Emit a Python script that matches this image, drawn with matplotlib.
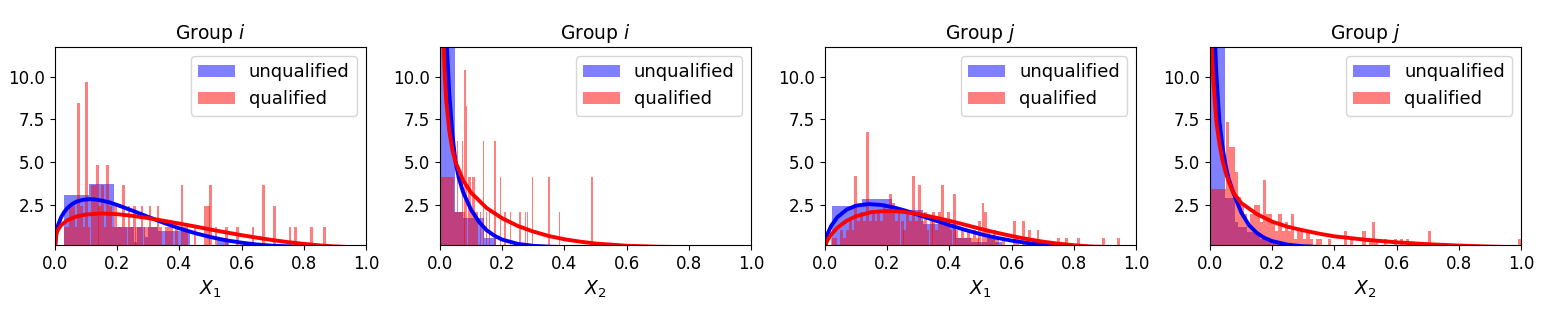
import matplotlib
matplotlib.use("Agg")
import matplotlib.pyplot as plt

# ---- panel titles / labels
titles = ["Group $i$", "Group $i$", "Group $j$", "Group $j$"]
xlabels = ["$X_1$", "$X_2$", "$X_1$", "$X_2$"]

# ---- unqualified histograms (bin edges, density heights)
blue1_edges = [0.028, 0.11, 0.19, 0.255, 0.265, 0.29, 0.30, 0.33, 0.365, 0.435, 0.52, 0.56]
blue1_h = [3.04, 3.73, 1.19, 0.3, 1.19, 0.6, 1.19, 0.95, 0.95, 0.0, 0.5]
blue2_edges = [0.0, 0.048, 0.075, 0.14, 0.18]
blue2_h = [25.0, 2.07, 1.72, 0.54]
blue3_edges = [0.024, 0.118, 0.214, 0.316, 0.42, 0.47, 0.52, 0.545, 0.57, 0.59]
blue3_h = [2.4, 2.83, 2.17, 1.39, 0.55, 0.3, 0.55, 0.3, 0.0]
blue4_edges = [0.0, 0.048, 0.08, 0.09, 0.12, 0.16, 0.2, 0.26, 0.3, 0.34, 0.38]
blue4_h = [25.0, 2.9, 1.5, 1.2, 0.9, 0.5, 0.25, 0.0, 0.15, 0.0]

# ---- qualified histograms (bar centers, density heights, bin width)
red1_w = 0.0085
red1_x = [0.034, 0.042, 0.051, 0.059, 0.068, 0.076, 0.085, 0.093, 0.102, 0.110, 0.119, 0.127,
          0.136, 0.144, 0.153, 0.161, 0.170, 0.178, 0.187, 0.195, 0.204, 0.212, 0.221, 0.229,
          0.238, 0.246, 0.255, 0.263, 0.272, 0.280, 0.289, 0.297, 0.306, 0.314, 0.323, 0.331,
          0.340, 0.357, 0.365, 0.374, 0.391, 0.408, 0.416, 0.425, 0.450, 0.484, 0.493, 0.501,
          0.518, 0.552, 0.586, 0.637, 0.671, 0.705, 0.756, 0.773, 0.824, 0.866]
red1_h = [1.21, 1.21, 2.42, 2.42, 1.21, 8.47, 2.42, 1.21, 9.68, 1.21, 3.63, 3.63,
          4.84, 2.42, 3.63, 1.21, 4.84, 2.42, 1.21, 2.42, 1.21, 1.21, 3.63, 1.21,
          2.42, 1.21, 2.42, 1.21, 1.21, 2.42, 1.21, 1.21, 2.42, 1.21, 1.21, 2.42,
          1.21, 1.21, 1.21, 1.21, 1.21, 3.63, 1.21, 1.21, 1.21, 2.42, 2.42, 3.63,
          1.21, 1.21, 1.21, 1.21, 3.63, 2.42, 1.21, 1.21, 1.21, 1.21]

red2_w = 0.0049
red2_x = [0.0025, 0.0074, 0.0123, 0.0172, 0.0221, 0.0270, 0.0319, 0.0368, 0.0417,
          0.047, 0.052, 0.057, 0.062, 0.067, 0.072, 0.077, 0.081, 0.086, 0.091, 0.096,
          0.101, 0.106, 0.111, 0.116, 0.121, 0.130, 0.140, 0.150, 0.160, 0.177, 0.194,
          0.209, 0.226, 0.257, 0.275, 0.282, 0.297, 0.350, 0.385, 0.488]
red2_h = [4.14, 4.14, 4.14, 4.14, 4.14, 4.14, 4.14, 4.14, 4.14,
          2.07, 2.07, 6.2, 2.07, 2.07, 6.2, 2.07, 10.4, 8.3, 4.14, 4.14,
          2.07, 4.14, 4.14, 2.07, 2.07, 2.07, 6.2, 2.07, 2.07, 6.2, 4.14,
          2.07, 2.07, 2.07, 2.07, 2.07, 4.14, 4.14, 2.07, 4.14]

red3_w = 0.0093
red3_x = [0.025, 0.034, 0.053, 0.062, 0.071, 0.081, 0.090, 0.099, 0.108, 0.118, 0.127, 0.136,
          0.146, 0.155, 0.164, 0.173, 0.183, 0.192, 0.201, 0.211, 0.220, 0.229, 0.238, 0.248,
          0.257, 0.266, 0.276, 0.285, 0.294, 0.303, 0.313, 0.322, 0.331, 0.341, 0.350, 0.359,
          0.368, 0.378, 0.387, 0.396, 0.405, 0.415, 0.424, 0.433, 0.443, 0.452, 0.461, 0.470,
          0.480, 0.489, 0.498, 0.508, 0.517, 0.526, 0.536, 0.545, 0.554, 0.573, 0.610, 0.619,
          0.638, 0.657, 0.685, 0.750, 0.777, 0.815, 0.895, 0.943]
red3_h = [0.52, 0.52, 1.04, 0.52, 1.04, 1.56, 1.04, 4.16, 1.56, 2.08, 1.56, 6.76,
          1.56, 2.08, 1.56, 2.08, 1.56, 2.6, 2.08, 3.12, 2.6, 1.56, 2.08, 1.56,
          1.04, 2.08, 1.56, 4.16, 1.56, 3.64, 1.56, 2.08, 1.04, 1.56, 2.08, 1.04,
          2.08, 3.64, 1.56, 2.08, 1.04, 3.12, 1.04, 0.52, 1.04, 0.52, 1.04, 0.52,
          1.04, 0.52, 1.56, 2.6, 2.08, 1.04, 0.52, 1.04, 0.52, 0.52, 1.56, 0.52,
          1.56, 1.04, 1.04, 0.52, 0.52, 0.52, 0.52, 0.52]

red4_w = 0.01
red4_x = [0.005, 0.015, 0.025, 0.035, 0.045, 0.055, 0.065, 0.075, 0.085, 0.095, 0.105, 0.115,
          0.125, 0.135, 0.145, 0.155, 0.165, 0.175, 0.185, 0.195, 0.205, 0.215, 0.225, 0.235,
          0.245, 0.255, 0.265, 0.275, 0.285, 0.295, 0.305, 0.315, 0.325, 0.345, 0.355, 0.385,
          0.435, 0.455, 0.495, 0.515, 0.525, 0.535, 0.565, 0.595, 0.615, 0.635, 0.705, 0.995]
red4_h = [3.43, 3.43, 3.43, 3.43, 3.43, 7.35, 5.88, 5.88, 4.41, 2.94, 2.45, 1.96,
          1.47, 1.96, 2.45, 2.45, 1.47, 3.92, 1.96, 1.96, 1.47, 0.98, 1.96, 0.98,
          1.47, 0.98, 1.96, 0.49, 0.98, 0.98, 0.49, 0.98, 0.49, 0.49, 0.49, 0.49,
          0.98, 0.49, 0.98, 0.49, 1.47, 0.49, 0.49, 0.49, 0.49, 0.49, 0.98, 0.49]

# ---- fitted density curves
blue1_cx = [0, 0.005, 0.01, 0.02, 0.03, 0.04, 0.055, 0.07, 0.09, 0.11, 0.13, 0.15, 0.175, 0.2,
            0.25, 0.3, 0.35, 0.4, 0.45, 0.5, 0.55, 0.6, 0.65, 0.7, 0.8, 0.9, 1.0]
blue1_cy = [0, 0.95, 1.30, 1.77, 2.07, 2.30, 2.53, 2.68, 2.78, 2.82, 2.80, 2.74, 2.63, 2.48,
            2.14, 1.78, 1.43, 1.11, 0.83, 0.60, 0.41, 0.27, 0.16, 0.09, 0.02, 0.0, 0.0]
red1_cx = [0, 0.005, 0.01, 0.02, 0.04, 0.07, 0.1, 0.15, 0.2, 0.25, 0.3, 0.35, 0.4, 0.45, 0.5,
           0.55, 0.6, 0.65, 0.7, 0.75, 0.8, 0.85, 0.9, 0.95, 1.0]
red1_cy = [0, 0.82, 1.04, 1.30, 1.59, 1.81, 1.92, 1.98, 1.94, 1.84, 1.71, 1.55, 1.39, 1.22, 1.04,
           0.87, 0.71, 0.56, 0.42, 0.30, 0.20, 0.11, 0.05, 0.01, 0]
blue2_cx = [0.005, 0.01, 0.015, 0.02, 0.03, 0.04, 0.05, 0.06, 0.075, 0.1, 0.125, 0.15, 0.175, 0.2,
            0.25, 0.3, 0.35, 0.4, 0.5, 0.6, 1.0]
blue2_cy = [40, 22, 15.5, 12.5, 9.0, 6.6, 5.0, 4.1, 3.2, 2.2, 1.5, 1.0, 0.68, 0.45,
            0.2, 0.085, 0.035, 0.013, 0.002, 0, 0]
red2_cx = [0.003, 0.006, 0.01, 0.015, 0.02, 0.03, 0.04, 0.05, 0.075, 0.1, 0.15, 0.2, 0.25, 0.3,
           0.35, 0.4, 0.45, 0.5, 0.6, 0.7, 0.8, 1.0]
red2_cy = [22, 15.5, 12.5, 10.2, 8.6, 6.8, 5.7, 5.0, 3.9, 3.2, 2.3, 1.7, 1.25, 0.92,
           0.66, 0.47, 0.33, 0.22, 0.09, 0.03, 0.01, 0]
blue3_cx = [0, 0.005, 0.01, 0.02, 0.04, 0.07, 0.1, 0.14, 0.18, 0.22, 0.26, 0.3, 0.35, 0.4, 0.45,
            0.5, 0.55, 0.6, 0.65, 0.7, 0.75, 0.8, 0.9, 1.0]
blue3_cy = [0, 0.58, 0.86, 1.26, 1.77, 2.21, 2.44, 2.53, 2.48, 2.34, 2.14, 1.90, 1.60, 1.30, 1.02,
            0.77, 0.56, 0.39, 0.25, 0.15, 0.08, 0.04, 0.004, 0]
red3_cx = [0, 0.005, 0.01, 0.02, 0.04, 0.07, 0.1, 0.15, 0.2, 0.25, 0.3, 0.35, 0.4, 0.45, 0.5,
           0.55, 0.6, 0.65, 0.7, 0.75, 0.8, 0.85, 0.9, 0.95, 1.0]
red3_cy = [0, 0.30, 0.48, 0.75, 1.15, 1.56, 1.82, 2.06, 2.13, 2.08, 1.95, 1.76, 1.55, 1.32, 1.08,
           0.86, 0.66, 0.48, 0.33, 0.21, 0.12, 0.05, 0.02, 0.002, 0]
blue4_cx = [0.005, 0.01, 0.015, 0.02, 0.03, 0.04, 0.05, 0.06, 0.075, 0.1, 0.125, 0.15, 0.175, 0.2,
            0.25, 0.3, 0.35, 0.4, 0.5, 1.0]
blue4_cy = [24, 16, 12.5, 10.2, 7.4, 5.9, 4.8, 4.0, 3.2, 2.05, 1.3, 0.85, 0.55, 0.36,
            0.15, 0.06, 0.02, 0.006, 0, 0]
red4_cx = [0.002, 0.005, 0.01, 0.02, 0.03, 0.04, 0.05, 0.06, 0.075, 0.1, 0.15, 0.2, 0.25, 0.3,
           0.35, 0.4, 0.5, 0.6, 0.7, 0.8, 0.9, 1.0]
red4_cy = [18, 12, 10, 7.4, 6.1, 5.1, 4.4, 3.85, 3.2, 2.6, 1.95, 1.5, 1.2, 0.99,
           0.8, 0.64, 0.44, 0.29, 0.18, 0.1, 0.04, 0]

panels = [
    (blue1_edges, blue1_h, red1_x, red1_h, red1_w, blue1_cx, blue1_cy, red1_cx, red1_cy),
    (blue2_edges, blue2_h, red2_x, red2_h, red2_w, blue2_cx, blue2_cy, red2_cx, red2_cy),
    (blue3_edges, blue3_h, red3_x, red3_h, red3_w, blue3_cx, blue3_cy, red3_cx, red3_cy),
    (blue4_edges, blue4_h, red4_x, red4_h, red4_w, blue4_cx, blue4_cy, red4_cx, red4_cy),
]

fig, axes = plt.subplots(1, 4, figsize=(15.61, 3.25), dpi=100)
fig.subplots_adjust(left=0.0352, right=0.9744, bottom=0.246, top=0.855, wspace=0.238)

for ax, p, title, xl in zip(axes, panels, titles, xlabels):
    be, bh, rx, rh, rw, bcx, bcy, rcx, rcy = p
    ax.stairs(bh, be, fill=True, color="blue", alpha=0.5, linewidth=0, label="unqualified")
    ax.bar(rx, rh, width=rw, color="red", alpha=0.5, linewidth=0, label="qualified")
    ax.plot(bcx, bcy, color="blue", linewidth=2.8)
    ax.plot(rcx, rcy, color="red", linewidth=2.8)
    ax.set_xlim(0, 1)
    ax.set_ylim(0.13, 11.73)
    ax.set_yticks([2.5, 5.0, 7.5, 10.0])
    ax.set_xticks([0.0, 0.2, 0.4, 0.6, 0.8, 1.0])
    ax.tick_params(labelsize=12)
    ax.set_title(title, fontsize=13.5)
    ax.set_xlabel(xl, fontsize=13.5)
    ax.legend(loc="upper right", fontsize=13)

fig.savefig("out.png")
